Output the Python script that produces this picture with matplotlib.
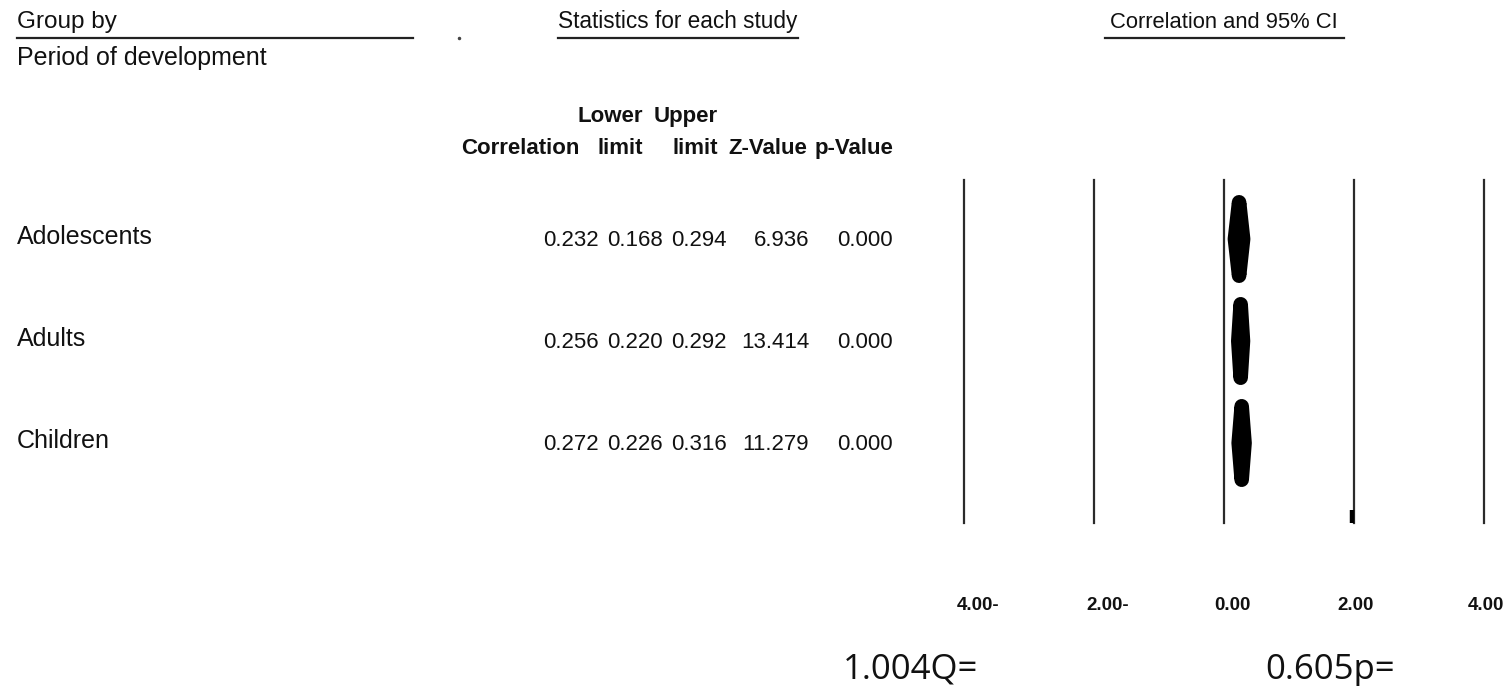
import matplotlib
matplotlib.use("Agg")
import matplotlib.pyplot as plt
from matplotlib.patches import Polygon
from matplotlib.transforms import ScaledTranslation

# ---- data ----
groups = ["Adolescents", "Adults", "Children"]
correlation = [0.232, 0.256, 0.272]
lower_limit = [0.168, 0.220, 0.226]
upper_limit = [0.294, 0.292, 0.316]
z_value = [6.936, 13.414, 11.279]
p_value = [0.000, 0.000, 0.000]
axis_ticks = [-4, -2, 0, 2, 4]
q_stat = 1.004
q_p = 0.605

W, H = 1511, 686
fig = plt.figure(figsize=(W / 100, H / 100), dpi=100)
fig.patch.set_facecolor("white")

REG = ["Liberation Sans", "DejaVu Sans"]
NARROW = ["Liberation Sans Narrow", "Liberation Sans", "DejaVu Sans"]
INK = "#111111"


def fx(x):
    return x / W


def fy(y):
    return 1 - y / H


def put(x, y, s, size, family=REG, weight="normal", ha="left", **kw):
    fig.text(fx(x), fy(y), s, fontsize=size, family=family, weight=weight,
             ha=ha, va="baseline", color=INK, **kw)


def hline(x0, x1, y, lw=1.6):
    fig.add_artist(plt.Line2D([fx(x0), fx(x1)], [fy(y), fy(y)],
                              transform=fig.transFigure, color="#222222", lw=lw))


# ---- section headings ----
put(17, 28, "Group by", 17.5)
hline(17, 413, 38)
put(17, 65, "Period of development", 18)
fig.add_artist(plt.Line2D([fx(459)], [fy(38)], marker="o", ms=1.5,
                          color="#444444", transform=fig.transFigure))

put(558, 28, "Statistics for each study", 16.3, family=NARROW)
hline(558, 798, 38)
put(1110, 28, "Correlation and 95% CI", 15.8, family=NARROW)
hline(1105, 1344, 38)

# ---- column headers ----
put(643, 122, "Lower", 16, weight="bold", ha="right")
put(718, 122, "Upper", 16, weight="bold", ha="right")
header_cols = [("Correlation", 580), ("limit", 643), ("limit", 718),
               ("Z-Value", 807), ("p-Value", 893)]
for label, xr in header_cols:
    put(xr, 154, label, 16, weight="bold", ha="right")

# ---- rows of statistics ----
row_base = [246, 348, 450]
value_right = [599, 663, 727, 809, 893]
for i, g in enumerate(groups):
    yb = row_base[i]
    put(17, yb - 2, g, 18)
    cells = [f"{correlation[i]:.3f}", f"{lower_limit[i]:.3f}",
             f"{upper_limit[i]:.3f}", f"{z_value[i]:.3f}", f"{p_value[i]:.3f}"]
    for s, xr in zip(cells, value_right):
        put(xr, yb, s, 16, ha="right")

# ---- forest panel ----
ax_left, ax_right, ax_top, ax_bot = 964, 1484, 180, 523
ax = fig.add_axes([fx(ax_left), fy(ax_bot), (ax_right - ax_left) / W,
                   (ax_bot - ax_top) / H])
ax.set_xlim(axis_ticks[0], axis_ticks[-1])
row_c0, row_step = 239, 102
ax.set_ylim((ax_bot - row_c0) / row_step, (ax_top - row_c0) / row_step)
ax.set_facecolor("none")
for sp in ax.spines.values():
    sp.set_visible(False)
ax.set_yticks([])

for t in axis_ticks:
    ax.axvline(t, color="#2b2b2b", lw=1.6, clip_on=False)
# thicker stub at the foot of the +2 reference line
ax.plot([axis_ticks[3] - 0.03] * 2, [2.66, 2.784], color="black", lw=3.2,
        solid_capstyle="butt", clip_on=False)

half_h = 0.36
for i in range(len(groups)):
    verts = [(lower_limit[i], i), (correlation[i], i - half_h),
             (upper_limit[i], i), (correlation[i], i + half_h)]
    ax.add_patch(Polygon(verts, closed=True, facecolor="black",
                         edgecolor="black", lw=10.5, joinstyle="round"))

ax.set_xticks(axis_ticks)
ax.set_xticklabels([f"{abs(t):.2f}" + ("-" if t < 0 else "") for t in axis_ticks],
                   family=NARROW, weight="bold", fontsize=13.5, color=INK)
ax.tick_params(axis="x", length=0, pad=53)
for lab, t in zip(ax.get_xticklabels(), axis_ticks):
    dx = 14 if t < 0 else (8 if t == 0 else 2)
    lab.set_transform(lab.get_transform() + ScaledTranslation(dx / 100, 0, fig.dpi_scale_trans))

# ---- heterogeneity summary ----
CAL = ["Open Sans", "DejaVu Sans"]
put(843, 679, f"{q_stat:.3f}Q=", 25, family=CAL)
put(1265, 679, f"{q_p:.3f}p=", 25, family=CAL)

fig.savefig("out.png", dpi=100, facecolor="white")
